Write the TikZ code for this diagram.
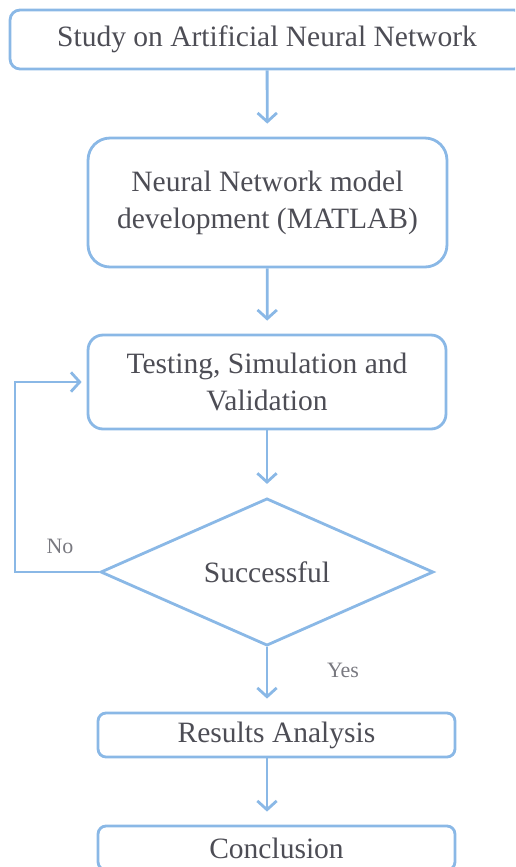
\documentclass[tikz,border=0pt]{standalone}
\usepackage{fontspec}
\setmainfont{Liberation Serif}
\usetikzlibrary{shapes.geometric,arrows.meta}
\definecolor{lineblue}{HTML}{8AB8E6}
\definecolor{textgrey}{HTML}{4D4D55}
\tikzset{
    stepbox/.style={draw=lineblue,line width=1.6pt,text=textgrey,align=center,inner sep=0pt,font=\fontsize{16.8}{21}\selectfont},
    flow/.style={draw=lineblue,line width=1.6pt,-{Straight Barb[length=5pt,width=11pt]},shorten >=0.26cm},
    answer/.style={text=textgrey!75,font=\fontsize{12.5}{15}\selectfont}
}
\begin{document}
\begin{tikzpicture}[x=0.02cm,y=-0.02cm]
    \useasboundingbox (0,0) rectangle (515,867);
    \clip (0,0) rectangle (515,867);
    \node [stepbox,rounded corners=0.2cm,minimum width=10.28cm,minimum height=1.18cm] (study) at (267,39.5) {Study on Artificial Neural Network};
    \node [stepbox,rounded corners=0.44cm,minimum width=7.18cm,minimum height=2.58cm] (model) at (267.5,202.5) {Neural Network model\\development (MATLAB)};
    \node [stepbox,rounded corners=0.3cm,minimum width=7.16cm,minimum height=1.88cm] (test) at (267,382) {Testing, Simulation and\\Validation};
    \node [stepbox,diamond,minimum width=6.66cm,minimum height=2.92cm] (ok) at (267,572) {Successful};
    \node [stepbox,rounded corners=0.16cm,minimum width=7.14cm,minimum height=0.88cm] (result) at (276.5,735) {Results Analysis};
    \node [stepbox,rounded corners=0.16cm,minimum width=7.14cm,minimum height=0.88cm] (concl) at (276.5,848) {Conclusion};
    \coordinate (back) at (15,572);
    \draw [flow] (study) -- (model);
    \draw [flow] (model) -- (test);
    \draw [flow] (test) -- (ok);
    \draw [flow] (ok.south) -- (ok.south |- result.north);
    \draw [flow] (result.south -| ok.south) -- (concl.north -| ok.south);
    \draw [flow,shorten >=0.1cm] (ok.west) -- (back) |- (test.west);
    \node [answer] (no) at (60,546) {No};
    \node [answer] (yes) at (343,670) {Yes};
\end{tikzpicture}
\end{document}
